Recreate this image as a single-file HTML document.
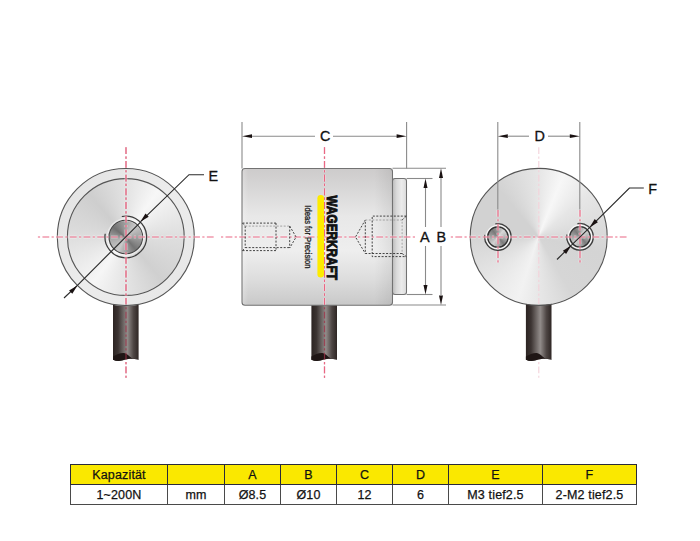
<!DOCTYPE html>
<html><head><meta charset="utf-8">
<style>
html,body{margin:0;padding:0;background:#fff;}
#wrap{position:relative;width:700px;height:541px;overflow:hidden;background:#fff;font-family:"Liberation Sans",sans-serif;}
.abs{position:absolute;left:0;top:0;}
.disc{position:absolute;border-radius:50%;}
</style></head><body><div id="wrap">

<!-- layer 1: cables + middle body -->
<svg class="abs" width="700" height="541" viewBox="0 0 700 541">
  <defs>
    <linearGradient id="cab" x1="0" y1="0" x2="1" y2="0">
      <stop offset="0" stop-color="#2c2422"/>
      <stop offset="0.2" stop-color="#3c3432"/>
      <stop offset="0.56" stop-color="#928c8a"/>
      <stop offset="0.8" stop-color="#4e4644"/>
      <stop offset="1" stop-color="#2e2624"/>
    </linearGradient>
    <linearGradient id="body" x1="0" y1="0" x2="0" y2="1">
      <stop offset="0" stop-color="#cdcbcb"/>
      <stop offset="0.1" stop-color="#d4d3d3"/>
      <stop offset="0.35" stop-color="#e8e8e8"/>
      <stop offset="0.6" stop-color="#eeeeee"/>
      <stop offset="0.8" stop-color="#dedede"/>
      <stop offset="0.95" stop-color="#cecece"/>
      <stop offset="1" stop-color="#c8c8c8"/>
    </linearGradient>
    <linearGradient id="bodyh" x1="0" y1="0" x2="1" y2="0">
      <stop offset="0" stop-color="#fff" stop-opacity="0.25"/>
      <stop offset="0.04" stop-color="#fff" stop-opacity="0"/>
      <stop offset="0.88" stop-color="#000" stop-opacity="0"/>
      <stop offset="1" stop-color="#000" stop-opacity="0.07"/>
    </linearGradient>
    <linearGradient id="boss" x1="0" y1="0" x2="1" y2="0">
      <stop offset="0" stop-color="#bcbcbc"/>
      <stop offset="0.3" stop-color="#dadada"/>
      <stop offset="0.65" stop-color="#ebebeb"/>
      <stop offset="1" stop-color="#dcdcdc"/>
    </linearGradient>
  </defs>
  <!-- cables -->
  <path d="M113.00 296 H138.60 V359.8 Q134.00 358.6 130.00 358.8 Q125.00 359.2 122.00 360.6 Q117.50 361.9 113.00 359.8 Z" fill="url(#cab)"/>
  <path d="M113.00 356.6 C116.50 354.6 120.50 352.8 124.00 353.1 C127.00 353.4 129.00 356.5 132.00 358.2 Q135.00 359.2 138.60 359.6 L138.60 359.8 Q134.00 358.6 130.00 358.8 Q125.00 359.2 122.00 360.6 Q117.50 361.9 113.00 359.8 Z" fill="#1f1615"/>
  <path d="M311.40 300 H337.00 V359.8 Q332.40 358.6 328.40 358.8 Q323.40 359.2 320.40 360.6 Q315.90 361.9 311.40 359.8 Z" fill="url(#cab)"/>
  <path d="M311.40 356.6 C314.90 354.6 318.90 352.8 322.40 353.1 C325.40 353.4 327.40 356.5 330.40 358.2 Q333.40 359.2 337.00 359.6 L337.00 359.8 Q332.40 358.6 328.40 358.8 Q323.40 359.2 320.40 360.6 Q315.90 361.9 311.40 359.8 Z" fill="#1f1615"/>
  <path d="M525.90 296 H551.50 V359.8 Q546.90 358.6 542.90 358.8 Q537.90 359.2 534.90 360.6 Q530.40 361.9 525.90 359.8 Z" fill="url(#cab)"/>
  <path d="M525.90 356.6 C529.40 354.6 533.40 352.8 536.90 353.1 C539.90 353.4 541.90 356.5 544.90 358.2 Q547.90 359.2 551.50 359.6 L551.50 359.8 Q546.90 358.6 542.90 358.8 Q537.90 359.2 534.90 360.6 Q530.40 361.9 525.90 359.8 Z" fill="#1f1615"/>
  <!-- body -->
  <rect x="242" y="168.5" width="150.5" height="136.8" rx="3" fill="url(#body)"/>
  <rect x="242" y="168.5" width="150.5" height="136.8" rx="3" fill="url(#bodyh)" stroke="#727272" stroke-width="1.05"/>
  <rect x="392.5" y="178.5" width="14" height="116" rx="2.5" fill="url(#boss)" stroke="#727272" stroke-width="1.05"/>
</svg>

<!-- metallic discs -->
<div class="disc" style="left:57.3px;top:168.5px;width:137px;height:137px;background:linear-gradient(135deg,#e2e2e2,#ececec 50%,#e6e6e6);"></div>
<div class="disc" style="left:67.4px;top:178.6px;width:116.8px;height:116.8px;background:conic-gradient(from 0deg,#e2e2e2 0deg,#f7f7f7 35deg,#dedede 90deg,#d0d0d0 140deg,#eeeeee 200deg,#f6f6f6 215deg,#dadada 280deg,#cecece 320deg,#e2e2e2 360deg);"></div>
<div class="disc" style="left:109.3px;top:220.5px;width:33px;height:33px;background:conic-gradient(from 0deg,#a0a0a0 0deg,#c8c8c8 40deg,#a0a0a0 90deg,#747474 140deg,#cacaca 210deg,#acacac 260deg,#707070 310deg,#a0a0a0 360deg);"></div>

<div class="disc" style="left:470.2px;top:168.4px;width:137px;height:137px;background:conic-gradient(from 0deg,#e6e6e6 0deg,#f7f7f7 22deg,#e6e6e6 50deg,#d4d4d4 105deg,#d6d6d6 150deg,#f2f2f2 198deg,#eaeaea 220deg,#d2d2d2 275deg,#d2d2d2 320deg,#e6e6e6 360deg);"></div>
<div class="disc" style="left:487.2px;top:226.3px;width:21.4px;height:21.4px;background:conic-gradient(from 0deg,#9a9a9a 0deg,#d8d8d8 40deg,#b4b4b4 90deg,#7c7c7c 140deg,#d2d2d2 215deg,#a4a4a4 270deg,#7a7a7a 320deg,#9a9a9a 360deg);"></div>
<div class="disc" style="left:569.3px;top:226.1px;width:21.4px;height:21.4px;background:conic-gradient(from 0deg,#9a9a9a 0deg,#d8d8d8 40deg,#b4b4b4 90deg,#7c7c7c 140deg,#d2d2d2 215deg,#a4a4a4 270deg,#7a7a7a 320deg,#9a9a9a 360deg);"></div>

<!-- overlay -->
<svg class="abs" width="700" height="541" viewBox="0 0 700 541">
  <defs>
    <marker id="ar" viewBox="0 0 10 4" refX="10" refY="2" markerWidth="10" markerHeight="4" markerUnits="userSpaceOnUse" orient="auto">
      <path d="M0 0 L10 2 L0 4 Z" fill="#1a1212"/>
    </marker>
  </defs>
  <g fill="none" stroke="#555" stroke-width="1.1">
    <!-- left circle borders -->
    <circle cx="125.8" cy="237" r="68.5"/>
    <circle cx="125.8" cy="237" r="58.4"/>
    <circle cx="125.8" cy="237" r="18.2" stroke="#fff" stroke-opacity="0.45" stroke-width="1.6"/>
    <circle cx="125.8" cy="237" r="16.8" stroke="#444" stroke-width="1.1"/>
    <!-- right circle -->
    <circle cx="538.7" cy="236.9" r="68.5"/>
    <circle cx="497.9" cy="237" r="11.6" stroke="#fff" stroke-opacity="0.8" stroke-width="1.3"/>
    <circle cx="497.9" cy="237" r="10.2" stroke="#333" stroke-width="1.3"/>
    <circle cx="580" cy="236.8" r="11.6" stroke="#fff" stroke-opacity="0.8" stroke-width="1.3"/>
    <circle cx="580" cy="236.8" r="10.2" stroke="#333" stroke-width="1.3"/>
  </g>
  <!-- thread arcs (gap upper-left) -->
  <g fill="none" stroke="#3c3c3c" stroke-width="1.3">
    <path d="M121.81 216.51 A20.85 20.85 0 1 1 105.21 233.74" stroke-width="1.25"/>
    <path d="M495.36 223.94 A13.3 13.3 0 1 1 484.76 234.92"/>
    <path d="M577.46 223.74 A13.3 13.3 0 1 1 566.86 234.72"/>
  </g>

  <!-- red center lines -->
  <mask id="nocab" maskUnits="userSpaceOnUse" x="0" y="0" width="700" height="541">
    <rect x="0" y="0" width="700" height="541" fill="#fff"/>
    <rect x="113" y="304" width="25.6" height="58" fill="#000"/>
    <rect x="311.4" y="306" width="25.6" height="56" fill="#000"/>
    <rect x="525.9" y="304" width="25.6" height="58" fill="#000"/>
  </mask>
  <g fill="none" stroke="#a03048" stroke-opacity="0.75" stroke-width="1.2" stroke-dasharray="6.8 2.35 2.2 2.35">
    <line x1="126" y1="147.3" x2="126" y2="377.7"/>
    <line x1="324.5" y1="147.3" x2="324.5" y2="377.7"/>
  </g>
  <g fill="none" mask="url(#nocab)">
    <g stroke="#fff" stroke-opacity="0.45" stroke-width="3">
      <g stroke-dasharray="2.2 2.35 6.8 2.35">
      <line x1="37.9" y1="237" x2="214" y2="237"/>
      <line x1="221" y1="237" x2="416" y2="237"/>
      <line x1="450.8" y1="237" x2="627" y2="237"/>
      </g>
      <g stroke-dasharray="6.8 2.35 2.2 2.35">
      <line x1="126" y1="147.3" x2="126" y2="377.7"/>
      <line x1="324.5" y1="147.3" x2="324.5" y2="377.7"/>
      <line x1="498" y1="210" x2="498" y2="264"/>
      <line x1="580" y1="210" x2="580" y2="264"/>
      </g>
    </g>
    <g stroke="#ea6683" stroke-width="1.2">
      <g stroke-dasharray="2.2 2.35 6.8 2.35">
      <line x1="37.9" y1="237" x2="214" y2="237"/>
      <line x1="221" y1="237" x2="416" y2="237"/>
      <line x1="450.8" y1="237" x2="627" y2="237"/>
      </g>
      <g stroke-dasharray="6.8 2.35 2.2 2.35">
      <line x1="126" y1="147.3" x2="126" y2="377.7"/>
      <line x1="324.5" y1="147.3" x2="324.5" y2="377.7"/>
      <line x1="498" y1="210" x2="498" y2="264"/>
      <line x1="580" y1="210" x2="580" y2="264"/>
      </g>
      <g stroke="#f4d2da" stroke-width="1.1" stroke-dasharray="6.8 2.35 2.2 2.35">
        <line x1="538.8" y1="147.3" x2="538.8" y2="377.7"/>
      </g>
    </g>
  </g>

  <!-- left view E dimension -->
  <g stroke="#2a2a2a" stroke-width="1.15" fill="none">
    <line x1="64" y1="298" x2="77.4" y2="285.4"/>
    <path d="M140.6 221.6 L189 174.7 H204"/>
    <line x1="77.4" y1="285.4" x2="140.8" y2="221.8"/>
  </g>
  

  <!-- middle: ext lines -->
  <g stroke="#8a8a8a" stroke-width="1.1" fill="none">
    <line x1="242" y1="122" x2="242" y2="168.5"/>
    <line x1="406.6" y1="122" x2="406.6" y2="168.5"/>
    <line x1="392.5" y1="168.2" x2="446" y2="168.2"/>
    <line x1="406.6" y1="178.5" x2="432.5" y2="178.5"/>
    <line x1="406.6" y1="294.5" x2="432.5" y2="294.5"/>
    <line x1="392.5" y1="305" x2="446" y2="305"/>
    <!-- C dim -->
    <line x1="252" y1="136.2" x2="315" y2="136.2"/>
    <line x1="333" y1="136.2" x2="397" y2="136.2"/>
    <!-- A dim -->
    <line x1="425.5" y1="188" x2="425.5" y2="227"/>
    <line x1="425.5" y1="246" x2="425.5" y2="285"/>
    <!-- B dim -->
    <line x1="441" y1="178" x2="441" y2="227"/>
    <line x1="441" y1="246" x2="441" y2="295"/>
    <!-- D ext -->
    <line x1="497.8" y1="122" x2="497.8" y2="209.5"/>
    <line x1="579.8" y1="122" x2="579.8" y2="209.5"/>
    <line x1="508" y1="136.2" x2="529" y2="136.2"/>
    <line x1="548" y1="136.2" x2="570" y2="136.2"/>
  </g>
  <g fill="#1a1212">
    <path d="M242 136.2 L252 134.3 L252 138.1 Z"/>
    <path d="M406.6 136.2 L396.6 134.3 L396.6 138.1 Z"/>
    <path d="M425.5 178.5 L423.5 188 L427.5 188 Z"/>
    <path d="M425.5 294.5 L423.5 285 L427.5 285 Z"/>
    <path d="M441 168.3 L439 178 L443 178 Z"/>
    <path d="M441 305 L439 295.5 L443 295.5 Z"/>
    <path d="M497.8 136.2 L507.8 134.3 L507.8 138.1 Z"/>
    <path d="M579.8 136.2 L569.8 134.3 L569.8 138.1 Z"/>
  </g>

  <!-- F dimension -->
  <g stroke="#2a2a2a" stroke-width="1.15" fill="none">
    <line x1="557" y1="259.5" x2="571.3" y2="245.3"/>
    <line x1="571.3" y1="245.3" x2="589.3" y2="227.8"/>
    <path d="M589.3 227.8 L629.4 188 H643.8"/>
  </g>
  <g fill="#1a1212">
    <path d="M571.2 245.6 L566.1 253.9 L562.9 250.7 Z"/>
    <path d="M589.6 227.4 L597.9 222.3 L594.7 219.1 Z"/>
    <path d="M77.4 285.4 L72.3 293.7 L69.1 290.5 Z"/>
    <path d="M140.4 221.8 L148.7 216.7 L145.5 213.5 Z"/>
  </g>

  <!-- dashed threaded holes -->
  <g fill="none" stroke="#3a3a3a" stroke-width="0.95" stroke-dasharray="2 1.5">
    <path d="M242.5 223.1 H276"/>
    <path d="M242.5 250.6 H276"/>
    <path d="M245.2 247.6 H289.7"/>
    <path d="M276 223.1 V250.6"/>
    <path d="M245.2 226.1 V247.6"/>
    <path d="M289.7 226.1 V248 M289.7 226.1 L296.1 237 L289.7 248"/>
    <path d="M242.5 223.1 L245.2 226.1 M242.5 250.6 L245.2 247.6"/>
    <path d="M406.3 216.1 H372.2 V256.6 H406.3"/>
    <path d="M402.1 253.5 H365.3 V220 L355.5 237 L365.3 253.5"/>
    <path d="M402.1 220 L406.3 216.1 M402.1 253.5 L406.3 256.6"/>
  </g>
  <g fill="none" stroke="#9a9a9a" stroke-width="0.9" stroke-dasharray="2 1.5">
    <path d="M245.2 226.1 H289.7"/>
    <path d="M365.3 220 H402.1 V253.5"/>
  </g>

  <!-- labels -->
  <g font-family="Liberation Sans, sans-serif" font-size="14.4" fill="#111" stroke="#111" stroke-width="0.3">
    <text x="319.9" y="141.4">C</text>
    <text x="534.6" y="141.4">D</text>
    <text x="420" y="241.8">A</text>
    <text x="436.5" y="241.8">B</text>
    <text x="208.5" y="180.6">E</text>
    <text x="648.3" y="193.6">F</text>
  </g>

  <!-- logo -->
  <rect x="317.4" y="195" width="6.6" height="82.5" rx="3.3" fill="#fdeb00"/>
  <text transform="translate(326.6 195.6) rotate(90) scale(0.76 1)" font-family="Liberation Sans, sans-serif" font-weight="bold" font-size="15.5" fill="#111" stroke="#111" stroke-width="1.0">WAGERKRAFT</text>
  <text transform="translate(305.3 205.3) rotate(90) scale(0.91 1)" font-family="Liberation Sans, sans-serif" font-size="8.4" fill="#222" stroke="#222" stroke-width="0.3">Ideas for Precision</text>
</svg>

<!-- table -->
<div class="abs" style="left:70px;top:464px;">
<table style="border-collapse:collapse;font-family:'Liberation Sans',sans-serif;font-size:12.5px;color:#111;table-layout:fixed;letter-spacing:0.15px;-webkit-text-stroke:0.25px #111;">
<colgroup><col style="width:97px"><col style="width:57px"><col style="width:56px"><col style="width:56px"><col style="width:56px"><col style="width:56px"><col style="width:94px"><col style="width:94px"></colgroup>
<tr style="height:20px;background:#fae800;">
<td style="border:1px solid #2a2a3a;text-align:center;padding:0;">Kapazität</td><td style="border:1px solid #2a2a3a;padding:0;"></td><td style="border:1px solid #2a2a3a;text-align:center;padding:0;">A</td><td style="border:1px solid #2a2a3a;text-align:center;padding:0;">B</td><td style="border:1px solid #2a2a3a;text-align:center;padding:0;">C</td><td style="border:1px solid #2a2a3a;text-align:center;padding:0;">D</td><td style="border:1px solid #2a2a3a;text-align:center;padding:0;">E</td><td style="border:1px solid #2a2a3a;text-align:center;padding:0;">F</td></tr>
<tr style="height:20px;background:#fff;">
<td style="border:1px solid #4a4a4a;text-align:center;padding:0;">1~200N</td><td style="border:1px solid #4a4a4a;text-align:center;padding:0;">mm</td><td style="border:1px solid #4a4a4a;text-align:center;padding:0;">Ø8.5</td><td style="border:1px solid #4a4a4a;text-align:center;padding:0;">Ø10</td><td style="border:1px solid #4a4a4a;text-align:center;padding:0;">12</td><td style="border:1px solid #4a4a4a;text-align:center;padding:0;">6</td><td style="border:1px solid #4a4a4a;text-align:center;padding:0;">M3 tief2.5</td><td style="border:1px solid #4a4a4a;text-align:center;padding:0;">2-M2 tief2.5</td></tr>
</table>
</div>

</div></body></html>
